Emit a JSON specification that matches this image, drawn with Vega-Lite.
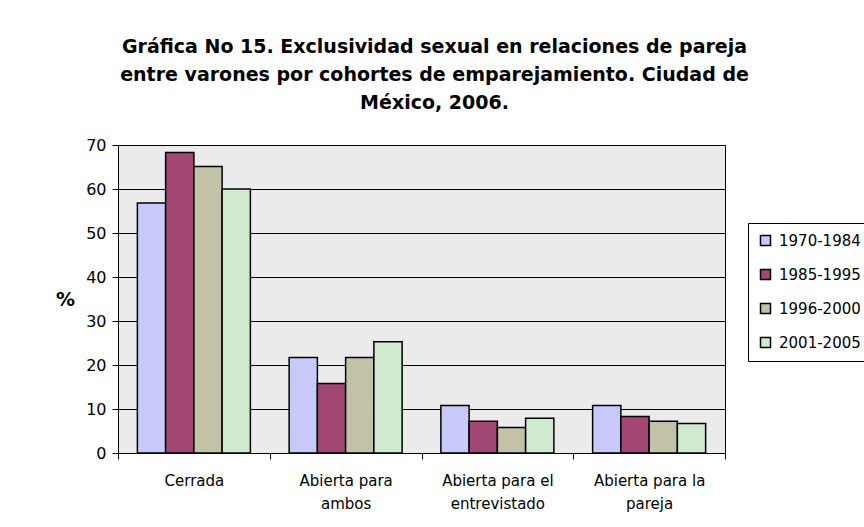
{
  "$schema": "https://vega.github.io/schema/vega-lite/v6.json",
  "width": 607,
  "height": 308,
  "autosize": {"type": "none"},
  "padding": {"left": 118, "top": 145, "right": 139, "bottom": 74},
  "background": "white",
  "title": {
    "text": ["Gráfica No 15. Exclusividad sexual en relaciones de pareja", "entre varones por cohortes de emparejamiento. Ciudad de", "México, 2006."],
    "font": "DejaVu Sans",
    "fontSize": 19,
    "fontWeight": "bold",
    "color": "black",
    "lineHeight": 28,
    "anchor": "middle",
    "dx": 13,
    "offset": 24
  },
  "data": {
    "values": [
      {"cat": "Cerrada", "cohorte": "1970-1984", "pct": 56.8},
      {"cat": "Cerrada", "cohorte": "1985-1995", "pct": 68.3},
      {"cat": "Cerrada", "cohorte": "1996-2000", "pct": 65.1},
      {"cat": "Cerrada", "cohorte": "2001-2005", "pct": 60.0},
      {"cat": "Abierta para ambos", "cohorte": "1970-1984", "pct": 21.7},
      {"cat": "Abierta para ambos", "cohorte": "1985-1995", "pct": 15.8},
      {"cat": "Abierta para ambos", "cohorte": "1996-2000", "pct": 21.7},
      {"cat": "Abierta para ambos", "cohorte": "2001-2005", "pct": 25.3},
      {"cat": "Abierta para el entrevistado", "cohorte": "1970-1984", "pct": 10.8},
      {"cat": "Abierta para el entrevistado", "cohorte": "1985-1995", "pct": 7.2},
      {"cat": "Abierta para el entrevistado", "cohorte": "1996-2000", "pct": 5.8},
      {"cat": "Abierta para el entrevistado", "cohorte": "2001-2005", "pct": 7.9},
      {"cat": "Abierta para la pareja", "cohorte": "1970-1984", "pct": 10.8},
      {"cat": "Abierta para la pareja", "cohorte": "1985-1995", "pct": 8.3},
      {"cat": "Abierta para la pareja", "cohorte": "1996-2000", "pct": 7.2},
      {"cat": "Abierta para la pareja", "cohorte": "2001-2005", "pct": 6.7}
    ]
  },
  "mark": {"type": "bar", "stroke": "black", "strokeWidth": 1.5},
  "encoding": {
    "x": {
      "field": "cat",
      "type": "nominal",
      "sort": ["Cerrada", "Abierta para ambos", "Abierta para el entrevistado", "Abierta para la pareja"],
      "scale": {"paddingInner": 0, "paddingOuter": 0},
      "axis": {
        "title": null,
        "labelAngle": 0,
        "tickBand": "extent",
        "labelFont": "DejaVu Sans",
        "labelFontSize": 15,
        "labelColor": "black",
        "labelPadding": 14,
        "labelLineHeight": 23,
        "tickColor": "black",
        "tickSize": 6,
        "domainColor": "black",
        "labelExpr": "datum.value == 'Abierta para ambos' ? ['Abierta para', 'ambos'] : datum.value == 'Abierta para el entrevistado' ? ['Abierta para el', 'entrevistado'] : datum.value == 'Abierta para la pareja' ? ['Abierta para la', 'pareja'] : datum.value"
      }
    },
    "xOffset": {
      "field": "cohorte",
      "type": "nominal",
      "scale": {"paddingInner": 0, "paddingOuter": 0.686}
    },
    "y": {
      "field": "pct",
      "type": "quantitative",
      "scale": {"domain": [0, 70], "nice": false},
      "axis": {
        "values": [0, 10, 20, 30, 40, 50, 60, 70],
        "title": "%",
        "titleAngle": 0,
        "titleFont": "DejaVu Sans",
        "titleFontSize": 19,
        "titleFontWeight": "bold",
        "titleColor": "black",
        "titleX": -53,
        "titleY": 164,
        "titleAlign": "center",
        "labelFont": "DejaVu Sans",
        "labelFontSize": 16,
        "labelColor": "black",
        "labelPadding": 6,
        "tickColor": "black",
        "tickSize": 6,
        "domainColor": "black",
        "gridColor": "black",
        "gridOpacity": 1,
        "gridWidth": 1
      }
    },
    "fill": {
      "field": "cohorte",
      "type": "nominal",
      "scale": {
        "domain": ["1970-1984", "1985-1995", "1996-2000", "2001-2005"],
        "range": ["#c8c8fb", "#a24774", "#c2c2a8", "#cfeacf"]
      },
      "legend": {
        "title": null,
        "orient": "none",
        "legendX": 630,
        "legendY": 78,
        "symbolType": "square",
        "symbolSize": 100,
        "symbolStrokeColor": "black",
        "symbolStrokeWidth": 1.5,
        "labelFont": "DejaVu Sans",
        "labelFontSize": 15,
        "labelColor": "black",
        "labelOffset": 6,
        "rowPadding": 17,
        "padding": 10,
        "strokeColor": "black",
        "fillColor": "white"
      }
    }
  },
  "config": {
    "view": {"fill": "#ebebeb", "stroke": "black", "strokeWidth": 1}
  }
}
